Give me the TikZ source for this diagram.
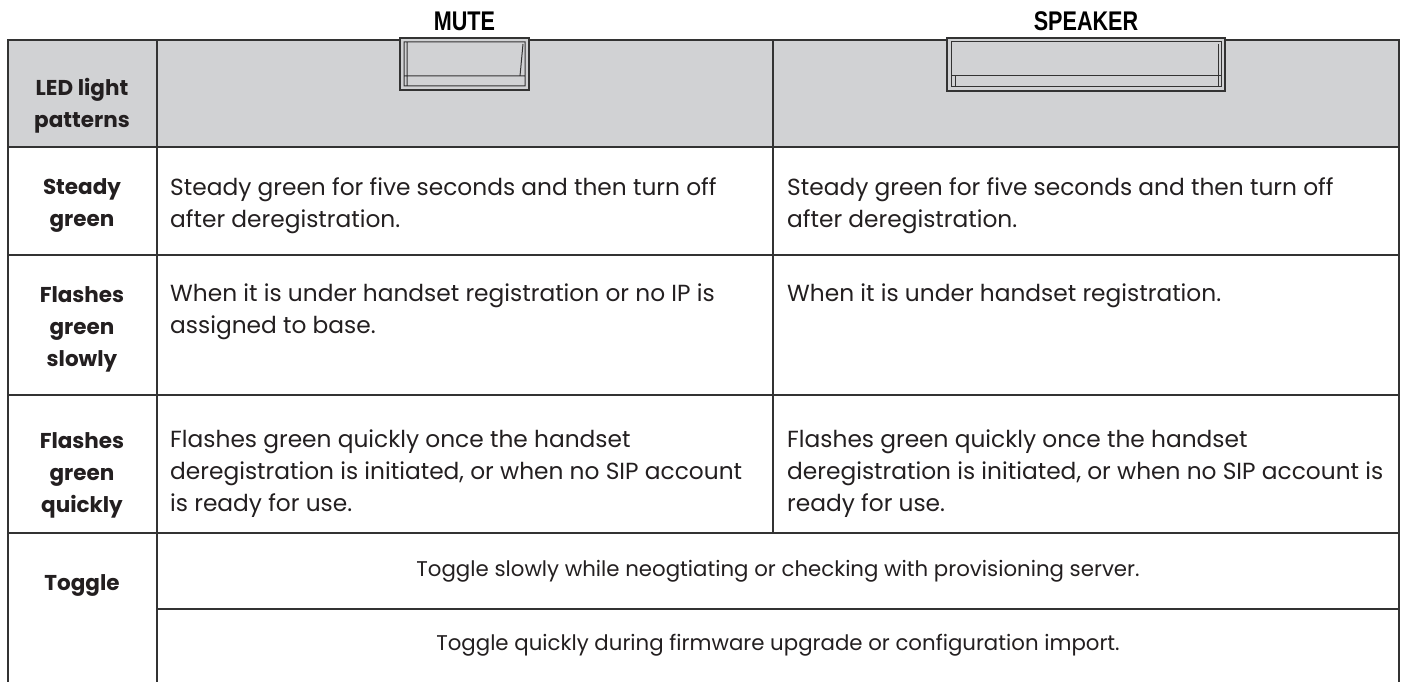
\documentclass[tikz,border=0pt]{standalone}
\usepackage{fontspec}
\setmainfont{Poppins}
\newfontfamily\keyfont[FakeStretch=0.8]{Liberation Sans}
\usetikzlibrary{positioning}
\definecolor{hdgray}{HTML}{D1D2D4}
\definecolor{rulec}{HTML}{333333}
\definecolor{ink}{HTML}{231F20}

\begin{document}
\begin{tikzpicture}[x=1pt,y=-1pt,node distance=6pt,
   grid/.style={draw=rulec,line width=2pt},
   lbl/.style={font=\fontsize{21.5}{32}\selectfont\bfseries,align=center,text=ink},
   txt/.style={font=\fontsize{23.3}{32}\selectfont,align=left,anchor=north west,inner sep=0pt,text=ink},
   mid/.style={font=\fontsize{21.3}{32}\selectfont,text=ink},
   key/.style={font=\keyfont\fontsize{27}{27}\selectfont\bfseries,text=black,inner sep=0pt},
   btn/.style={draw=rulec,line width=2.5pt,fill=hdgray,inner sep=0pt}] 
   \useasboundingbox (0,0) rectangle (1401,682);
   % header band
   \fill[hdgray] (8,40) rectangle (1399,147);
   % table rules
   \draw[grid] (8,682) -- (8,40) -- (1399,40) -- (1399,682);
   \draw[grid] (157,40) -- (157,682);
   \draw[grid] (773,40) -- (773,533);
   \foreach \y in {147,255,395,533}
      \draw[grid] (8,\y) -- (1399,\y);
   \draw[grid] (157,609) -- (1399,609);
   % buttons
   \node[btn,minimum width=129,minimum height=52] (mutebtn) at (464.5,64) {};
   \node[btn,minimum width=278,minimum height=53] (spkbtn) at (1086,64.5) {};
   \node[key,above=of mutebtn] (mute) {MUTE};
   \node[key,above=of spkbtn] (spk) {SPEAKER};
   \draw[rulec,line width=1pt] (404,42) rectangle (525,86) (404,76) -- (525,76)
      (407,42) -- (407,86) (523,44) -- (520,76);
   \draw[rulec,line width=1pt] (951,42) rectangle (1221,87) (951,76) -- (1221,76)
      (1218,44) -- (1218,86) (955,76) -- (955,86);
   % row labels
   \node[lbl] (hd)   at (82,106) {LED light\\patterns};
   \node[lbl] (st)   at (82,206) {Steady\\green};
   \node[lbl] (slow) at (82,329) {Flashes\\green\\slowly};
   \node[lbl] (fast) at (82,475) {Flashes\\green\\quickly};
   \node[lbl] (tog)  at (82,585) {Toggle};
   % descriptions
   \node[txt] (st1) at (170,177) {Steady green for five seconds and then turn off\\after deregistration.};
   \node[txt] (st2) at (787,177) {Steady green for five seconds and then turn off\\after deregistration.};
   \node[txt] (slow1) at (170,284) {When it is under handset registration or no IP is\\assigned to base.};
   \node[txt] (slow2) at (787,284) {When it is under handset registration.};
   \node[txt] (fast1) at (170,430) {Flashes green quickly once the handset\\deregistration is initiated, or when no SIP account\\is ready for use.};
   \node[txt] (fast2) at (787,430) {Flashes green quickly once the handset\\deregistration is initiated, or when no SIP account is\\ready for use.};
   \node[mid] (tog1) at (778,571) {Toggle slowly while neogtiating or checking with provisioning server.};
   \node[mid] (tog2) at (778,645) {Toggle quickly during firmware upgrade or configuration import.};
\end{tikzpicture}
\end{document}
